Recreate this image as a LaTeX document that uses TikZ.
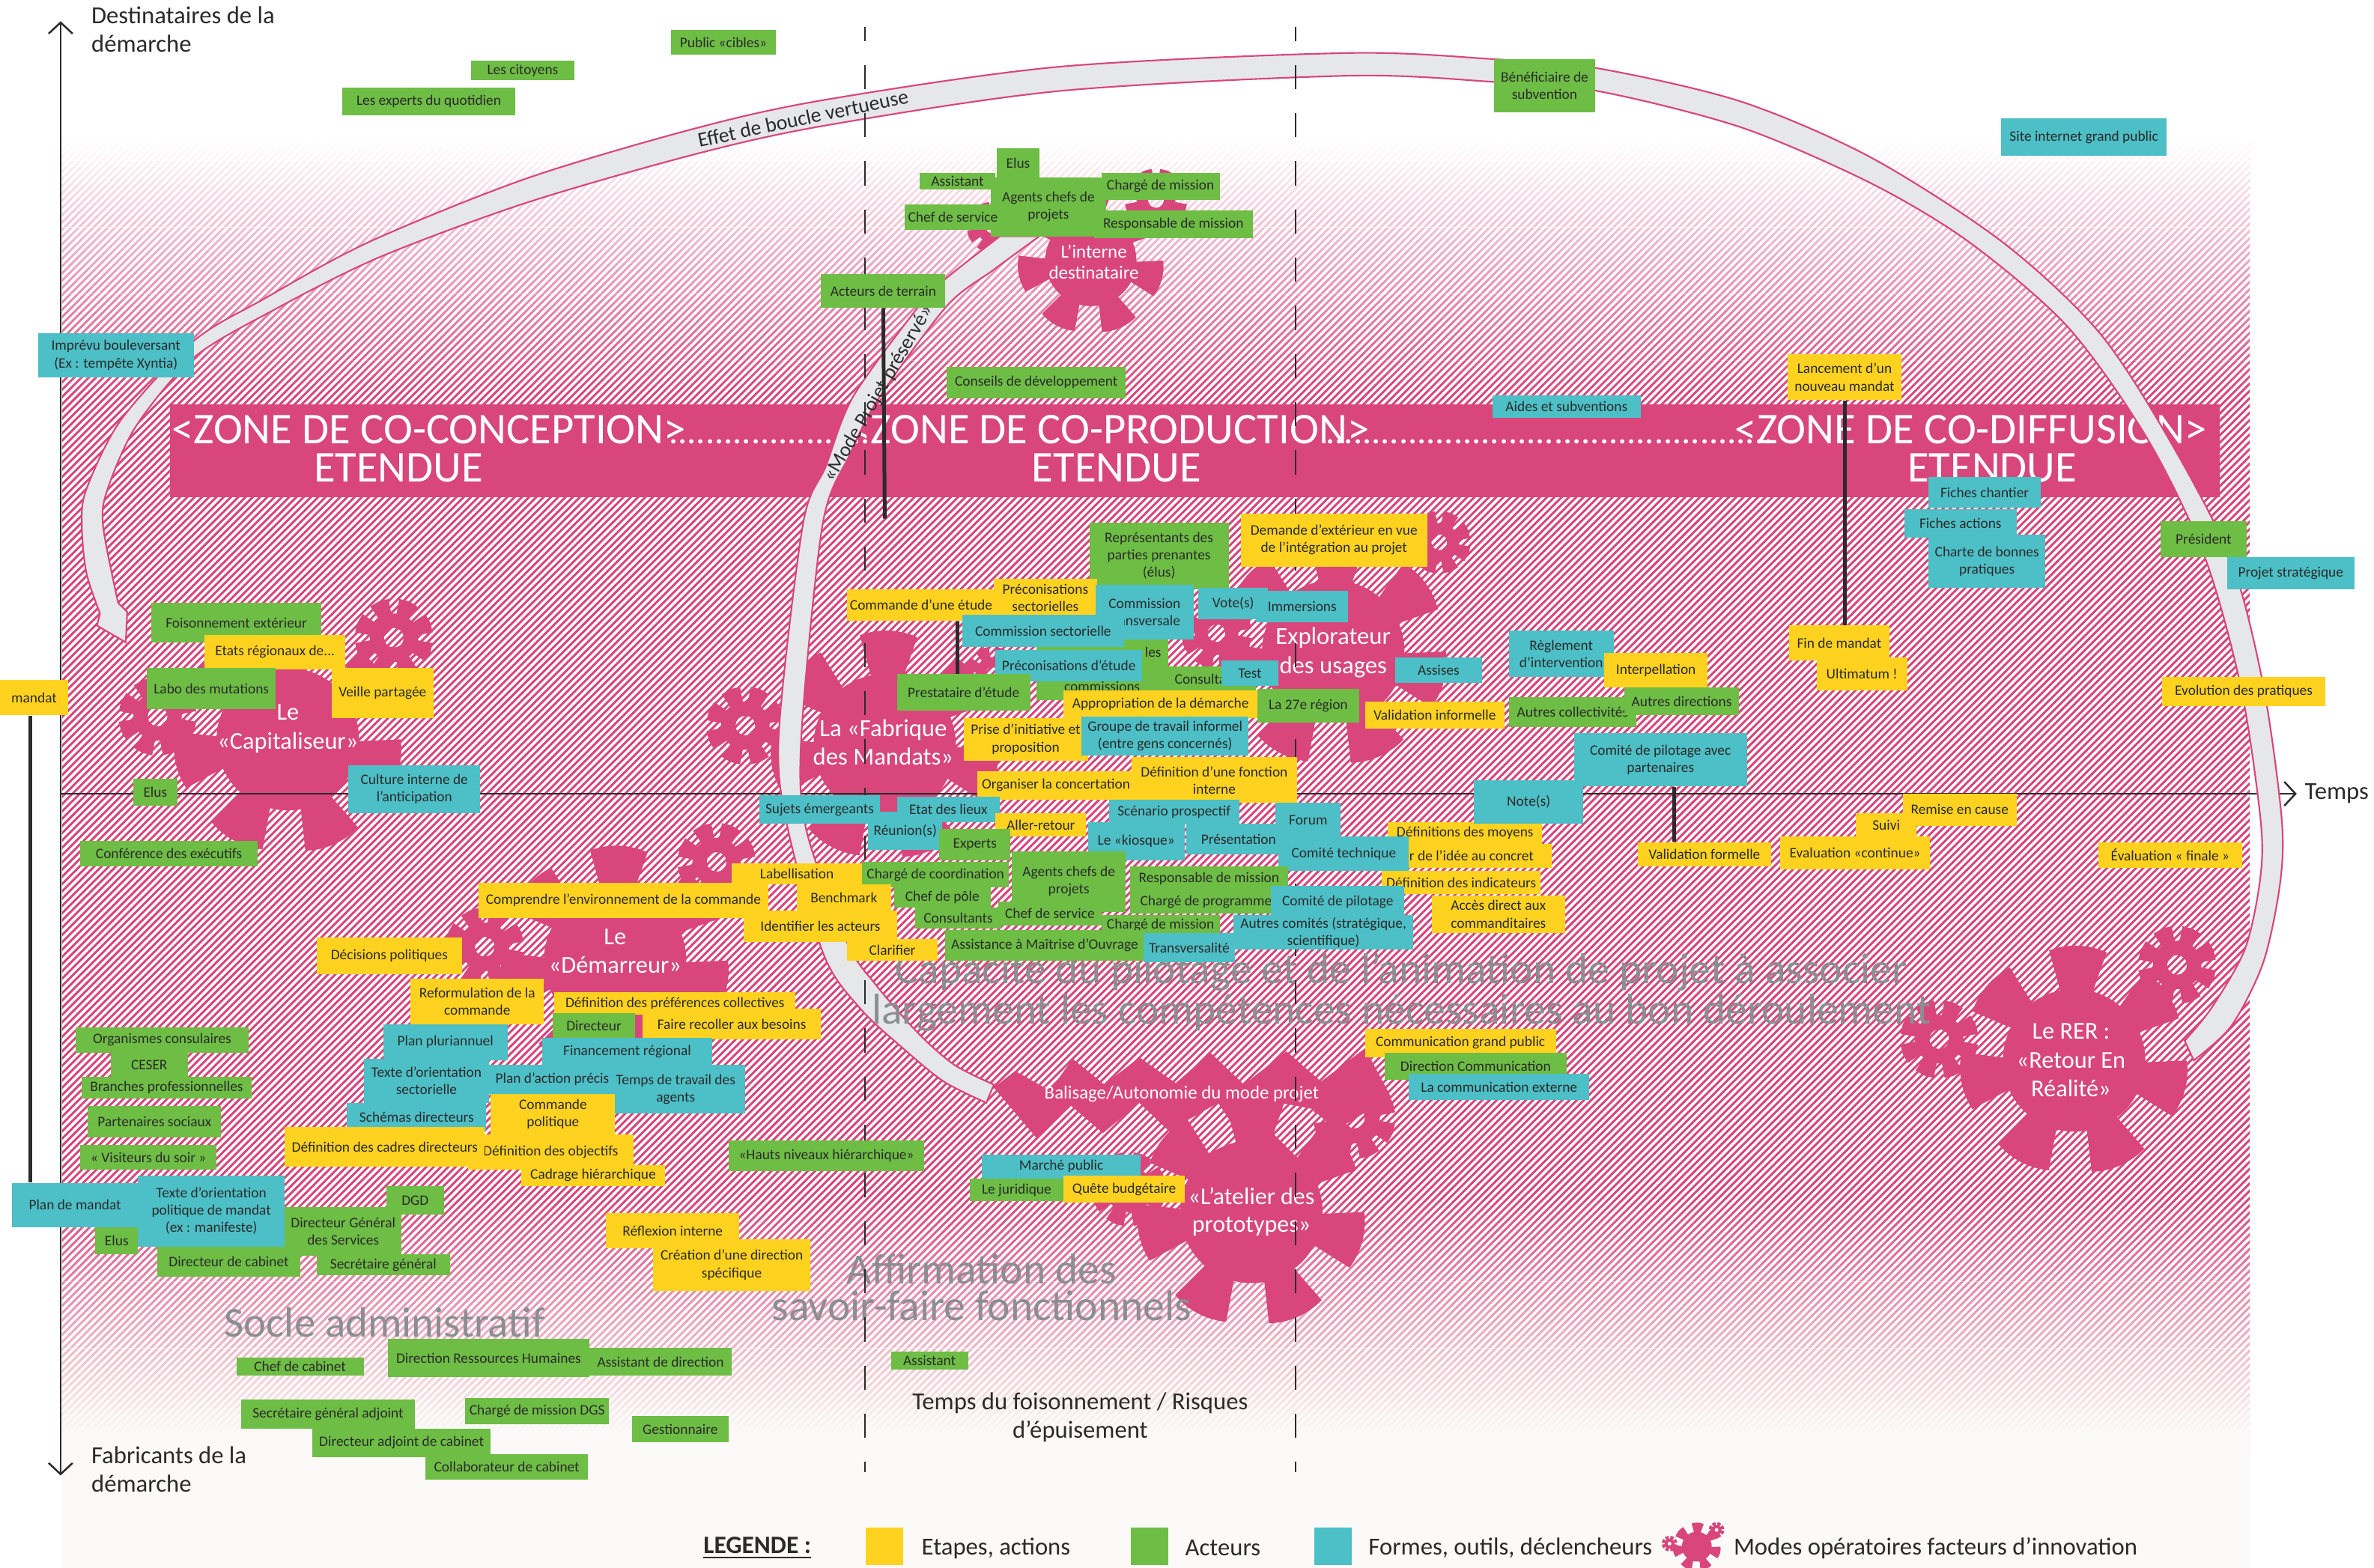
\documentclass[tikz,border=0pt]{standalone}
\usepackage{fontspec}
\setmainfont{Carlito}
\usetikzlibrary{arrows.meta,calc}
\definecolor{jaune}{HTML}{FFD21F}
\definecolor{vert}{HTML}{6EBD45}
\definecolor{bleu}{HTML}{4DBFC6}
\definecolor{rose}{HTML}{D8467C}
\definecolor{encre}{HTML}{2B2B2B}
\definecolor{ombre}{HTML}{8C8E90}
\definecolor{perle}{HTML}{E6E7E8}
\definecolor{creme}{HTML}{FBFAF8}
\tikzset{
    etiquette/.style={rectangle, inner sep=0pt, align=center, text=encre, font=\fontsize{5.45}{6.5}\selectfont},
    etape/.style={etiquette, fill=jaune},
    acteur/.style={etiquette, fill=vert},
    outil/.style={etiquette, fill=bleu},
    rayure/.style={rose, line width=0.85pt},
    boucle/.style={fill=perle, draw=rose, line width=0.6pt},
    lien/.style={encre, line width=1.4pt},
    axe/.style={encre, line width=0.7pt},
    pointille/.style={encre, line width=0.6pt, dash pattern=on 9.1pt off 9pt, dash phase=4pt},
    blanc/.style={white, align=center, inner sep=0pt},
    bandeau/.style={white, inner sep=0pt, anchor=base, font=\fontsize{16.5}{16.5}\selectfont},
    socle/.style={ombre, align=center, inner sep=0pt, font=\fontsize{16.2}{13.7}\selectfont},
    titre/.style={encre, inner sep=0pt, font=\fontsize{9.2}{10.8}\selectfont}
}
\begin{document}
\begin{tikzpicture}[x=0.02cm, y=-0.02cm, >={Straight Barb[length=4.2pt,width=9pt]}]
    \def\pas{4.8}
    \useasboundingbox (0,0) rectangle (1567,1035.1);
    % fond hachure
    \begin{scope}
        \clip (41,94) rectangle (1485,960);
        \foreach \k in {0,...,481}
            \draw [rayure] (-825+\pas*\k,960) -- ++(866,-866);
    \end{scope}
    \foreach \k in {0,...,41}
        \fill [white, opacity={1-(\k+0.5)/42}] (41,94+4*\k) rectangle ++(1444,4.05);
    \foreach \k in {0,...,38}
        \fill [creme, opacity={(\k+0.5)/39}] (41,790+4*\k) rectangle ++(1444,4.05);
    \fill [creme] (41,945) rectangle (1485,1035.1);
    % grandes roues
    \foreach \x/\y/\s in {190/488/1, 584/492/1, 406/634/1, 880/430/1, 720/172/0.64, 826/800/1, 1369/700/1, 1120/1021/0.21}{
        \begin{scope}[shift={(\x,\y)}, scale=\s]
            \fill [rose] (0,0) circle [radius=47];
            \foreach [evaluate={\t=88+51.43*\a}] \a in {0,...,6}
                \fill [rose, rotate=\t] (40,-9) -- (72,-19) .. controls (77,-7) and (77,7) .. (72,19) -- (40,9) -- cycle;
        \end{scope}
    }
    % petites roues
    \foreach \x/\y/\s in {260/421/1, 104/473/1, 492/479/1, 655/445/0.7, 950/358/0.8, 803/418/0.9, 320/625/1, 473/569/1, 763/132/0.8, 655/150/0.65, 894/738/1.05, 745/785/0.95, 1280/686/1, 1437/637/1, 1102/1019/0.2, 1133/1010/0.2}{
        \begin{scope}[shift={(\x,\y)}, scale=\s]
            \fill [rose, even odd rule] (0,0) circle [radius=16] (0,0) circle [radius=6.5];
            \foreach [evaluate={\t=22.5+45*\a}] \a in {0,...,7}
                \fill [rose, rotate=\t] (13,-4) -- (25,-6.5) -- (26,0) -- (25,6.5) -- (13,4) -- cycle;
        \end{scope}
    }
    % balisage
    \fill [rose] (656,718) -- (670,707) -- (693,720) -- (708,699) -- (729,716) -- (752,698) -- (776,715) -- (799,695) -- (821,716) -- (849,694) -- (872,714) -- (901,692) -- (918,724) -- (882,746) -- (866,732) -- (845,728) -- (840,748) -- (858,766) -- (826,790) -- (816,755) -- (812,740) -- (804,728) -- (783,740) -- (799,763) -- (773,748) -- (752,728) -- (728,748) -- (707,730) -- (684,751) -- cycle;
    % bandeau
    \fill [rose] (112,267) rectangle (1465,328);
    \node [bandeau] (zonea) at (283,293) {<ZONE DE CO-CONCEPTION>};
    \node [bandeau] (zoneb) at (732,293) {<ZONE DE CO-PRODUCTION>};
    \node [bandeau] (zonec) at (1301,293) {<ZONE DE CO-DIFFUSION>};
    \node [bandeau, font=\fontsize{13.6}{13.6}\selectfont] (pointsa) at (511,293) {.......................};
    \node [bandeau, font=\fontsize{13.6}{13.6}\selectfont] (pointsb) at (1023,293) {.................................................};
    \node [bandeau] (etenduea) at (263,318) {ETENDUE};
    \node [bandeau] (etendueb) at (737,318) {ETENDUE};
    \node [bandeau] (etenduec) at (1315,318) {ETENDUE};
    % axes
    \coordinate (haut) at (40,14);
    \coordinate (bas) at (40,974);
    \coordinate (origine) at (40,524);
    \coordinate (fin) at (1516,524);
    \draw [axe, <->] (haut) -- (bas);
    \draw [axe, ->] (origine) -- (fin);
    % boucles
    \filldraw [boucle] plot [smooth] coordinates {(1448,700) (1473,677) (1494,635) (1505,583) (1506,540) (1494,453) (1473,371) (1434,294) (1386,220) (1322,160) (1235,104) (1149,67) (1054,45) (985,39) (890,35) (700,44) (544,66) (458,85) (347,118) (243,160) (173,198) (128,225) (80,277) (57,323) (54,347) (57,378) (66,405)} -- (64,413) -- (83,424) -- (84,404) -- plot [smooth] coordinates {(78,398) (68,347) (71,323) (90,281) (128,236) (180,205) (250,170) (347,134) (458,102) (544,83) (700,60) (890,50) (985,54) (1054,60) (1149,84) (1235,121) (1300,160) (1365,216) (1417,289) (1455,367) (1479,453) (1492,540) (1492,579) (1482,626) (1460,665) (1442,687)} -- cycle;
    \filldraw [boucle] plot [smooth] coordinates {(686,156) (656,178) (625,202) (580,263) (561,300) (543,346) (529,485) (532,547) (559,622) (578,650) (606,682) (630,703) (656,716)} -- plot [smooth] coordinates {(651,728) (623,714) (596,692) (568,666) (544,631) (520,547) (514,485) (530,346) (545,308) (563,262) (605,204) (623,185) (660,156)} -- cycle;
    \node [rotate=12, encre, inner sep=0pt, font=\fontsize{7.8}{7.8}\selectfont] (effet) at (530,78) {Effet de boucle vertueuse};
    \node [rotate=60, encre, inner sep=0pt, font=\fontsize{7.6}{7.6}\selectfont] (preserve) at (580,260) {«Mode Projet préservé»};
    % textes des roues
    \node [blanc, font=\fontsize{9.1}{10.8}\selectfont] (capitaliseur) at (190,481) {Le\\«Capitaliseur»};
    \node [blanc, font=\fontsize{9.2}{10.8}\selectfont] (fabrique) at (583,490) {La «Fabrique\\des Mandats»};
    \node [blanc, font=\fontsize{9.1}{10.8}\selectfont] (demarreur) at (406,628) {Le\\«Démarreur»};
    \node [blanc, font=\fontsize{9.2}{11}\selectfont] (explorateur) at (880,431) {Explorateur\\des usages};
    \node [blanc, font=\fontsize{7}{8}\selectfont] (interne) at (722,173) {L’interne\\destinataire};
    \node [blanc, font=\fontsize{9}{10.2}\selectfont] (atelier) at (826,800) {«L’atelier des\\prototypes»};
    \node [blanc, font=\fontsize{9.1}{10.8}\selectfont] (rer) at (1367,700) {Le RER :\\«Retour En\\Réalité»};
    \node [blanc, font=\fontsize{7}{8}\selectfont] (balisage) at (780,722) {Balisage/Autonomie du mode projet};
    % textes d'ombre
    \node [socle] (capacite) at (925,655) {Capacité du pilotage et de l’animation de projet à associer\\largement les compétences nécessaires au bon déroulement};
    \node [socle] (affirmation) at (648,850) {Affirmation des\\savoir-faire fonctionnels};
    \node [socle, font=\fontsize{16}{16}\selectfont] (administratif) at (254,873) {Socle administratif};
    % separations
    \coordinate (tempsa) at (571,18);
    \coordinate (tempsb) at (855,18);
    \draw [pointille] (tempsa) -- ++(0,954);
    \draw [pointille] (tempsb) -- ++(0,954);
    % etiquettes
    \foreach \nm/\st/\xa/\ya/\xb/\yb/\tx in {
        public/acteur/443/20/512/36/Public «cibles»,
        citoyens/acteur/311/40/379/53/Les citoyens,
        experts/acteur/226/58/340/76/Les experts du quotidien,
        beneficiaire/acteur/986/39/1053/74/Bénéficiaire de\\subvention,
        site/outil/1321/78/1430/103/Site internet grand public,
        imprevu/outil/25/220/128/249/Imprévu bouleversant\\(Ex : tempête Xyntia),
        assistanta/acteur/607/114/657/125/Assistant,
        elusa/acteur/658/98/686/117/Elus,
        agentsa/acteur/654/117/730/156/Agents chefs de\\projets,
        chefa/acteur/597/135/661/152/Chef de service,
        chargea/acteur/727/114/805/132/Chargé de mission,
        responsablea/acteur/722/139/827/157/Responsable de mission,
        terrain/acteur/542/181/624/203/Acteurs de terrain,
        conseils/acteur/625/242/743/263/Conseils de développement,
        aides/outil/985/261/1083/276/Aides et subventions,
        lancement/etape/1180/234/1255/264/Lancement d’un\\nouveau mandat,
        chantier/outil/1273/315/1347/335/Fiches chantier,
        actions/outil/1257/336/1331/355/Fiches actions,
        charte/outil/1273/353/1350/388/Charte de bonnes\\pratiques,
        president/acteur/1426/344/1483/368/Président,
        strategique/outil/1470/368/1554/389/Projet stratégique,
        foisonnement/acteur/100/398/212/424/Foisonnement extérieur,
        etats/etape/135/419/228/442/Etats régionaux de.{}.{}.,
        labo/acteur/97/441/182/468/Labo des mutations,
        veille/etape/219/441/286/474/Veille partagée,
        mandat/etape/0/449/45/472/mandat,
        elusb/acteur/88/514/117/532/Elus,
        culture/outil/230/505/317/537/Culture interne de\\l’anticipation,
        executifs/acteur/53/555/170/572/Conférence des exécutifs,
        commande/etape/559/389/657/410/Commande d’une étude,
        representants/acteur/719/345/811/389/Représentants des\\parties prenantes\\(élus),
        demande/etape/819/339/942/374/Demande d’extérieur en vue\\de l’intégration au projet,
        precosect/etape/656/382/724/407/Préconisations\\sectorielles,
        transversale/outil/723/386/788/422/Commission\\transversale,
        vote/outil/791/388/837/409/Vote(s),
        immersions/outil/829/390/890/411/Immersions,
        commissions/acteur/684/422/771/462/\phantom{Vice-présidents d}les\\ \\commissions,
        sectorielle/outil/635/406/742/427/Commission sectorielle,
        consultation/acteur/771/440/829/457/Consultation,
        test/outil/806/436/844/453/Test,
        precoetude/outil/657/429/754/450/Préconisations d’étude,
        prestataire/acteur/592/445/680/469/Prestataire d’étude,
        appropriation/etape/702/456/830/474/Appropriation de la démarche,
        region/acteur/830/455/897/477/La 27e région,
        informelle/etape/901/463/993/481/Validation informelle,
        assises/outil/921/434/978/451/Assises,
        prise/etape/636/474/718/502/Prise d’initiative et\\proposition,
        groupe/outil/714/473/824/499/Groupe de travail informel\\(entre gens concernés),
        concertation/etape/645/509/749/528/Organiser la concertation,
        fonction/etape/747/500/856/530/Définition d’une fonction\\interne,
        reglement/outil/996/416/1065/447/Règlement\\d’intervention,
        interpellation/etape/1059/431/1127/454/Interpellation,
        collectivites/acteur/996/460/1080/480/Autres collectivités,
        directions/acteur/1072/454/1148/472/Autres directions,
        finmandat/etape/1181/413/1247/436/Fin de mandat,
        ultimatum/etape/1199/434/1259/456/Ultimatum !,
        pratiques/etape/1427/447/1535/466/Evolution des pratiques,
        partenaires/outil/1039/484/1153/519/Comité de pilotage avec\\partenaires,
        moyens/etape/916/543/1018/557/Définitions des moyens,
        notes/outil/973/515/1045/544/Note(s),
        remise/etape/1256/524/1331/545/Remise en cause,
        suivi/etape/1225/537/1265/552/Suivi,
        continue/etape/1175/552/1274/574/Evaluation «continue»,
        formelle/etape/1081/556/1169/572/Validation formelle,
        finale/etape/1385/556/1480/573/Évaluation « finale »,
        reunion/outil/573/536/622/561/Réunion(s),
        sujets/outil/501/525/581/544/Sujets émergeants,
        lieux/outil/592/526/660/543/Etat des lieux,
        aller/etape/657/537/717/552/Aller-retour,
        expertsb/acteur/620/547/667/568/Experts,
        scenario/outil/732/528/818/544/Scénario prospectif,
        kiosque/outil/718/543/782/568/Le «kiosque»,
        presentation/outil/783/544/852/564/Présentation,
        forum/outil/842/530/885/553/Forum,
        concret/etape/897/557/1024/573/Passer de l’idée au concret,
        technique/outil/844/552/930/575/Comité technique,
        indicateurs/etape/912/575/1017/590/Définition des indicateurs,
        labellisation/etape/483/570/569/584/Labellisation,
        coordination/acteur/569/569/666/586/Chargé de coordination,
        agentsb/acteur/668/562/743/602/Agents chefs de\\projets,
        pole/acteur/590/586/654/599/Chef de pôle,
        comprendre/etape/316/583/507/606/Comprendre l’environnement de la commande,
        benchmark/etape/526/584/588/601/Benchmark,
        identifier/etape/491/601/592/622/Identifier les acteurs,
        consultants/acteur/604/599/661/613/Consultants,
        chefb/acteur/659/595/727/611/Chef de service,
        responsableb/acteur/746/572/850/588/Responsable de mission,
        programme/acteur/746/588/846/603/Chargé de programme,
        chargeb/acteur/727/604/805/617/Chargé de mission,
        pilotage/outil/839/585/927/606/Comité de pilotage,
        acces/etape/945/591/1033/616/Accès direct aux\\commanditaires,
        comites/outil/814/604/933/627/{Autres comités (stratégique,\\scientifique)},
        amo/acteur/624/614/755/634/Assistance à Maîtrise d’Ouvrage,
        transversalite/outil/755/616/815/635/Transversalité,
        clarifier/etape/559/620/619/634/Clarifier,
        decisions/etape/209/619/305/643/Décisions politiques,
        reformulation/etape/271/646/359/676/Reformulation de la\\commande,
        preferences/etape/366/655/525/670/Définition des préférences collectives,
        directeur/acteur/365/669/419/685/Directeur,
        recoller/etape/424/666/542/686/Faire recoller aux besoins,
        pluriannuel/outil/253/676/335/700/Plan pluriannuel,
        financement/outil/358/685/470/703/Financement régional,
        ceser/acteur/73/695/124/711/CESER,
        organismes/acteur/50/678/164/695/Organismes consulaires,
        branches/acteur/54/711/166/725/Branches professionnelles,
        sociaux/acteur/58/730/146/751/Partenaires sociaux,
        visiteurs/acteur/53/756/143/772/« Visiteurs du soir »,
        orientation/outil/240/699/323/728/Texte d’orientation\\sectorielle,
        travail/outil/400/703/492/735/Temps de travail des\\agents,
        action/outil/323/703/406/722/Plan d’action précis,
        schemas/outil/229/728/321/747/Schémas directeurs,
        politique/etape/324/722/406/749/Commande\\politique,
        objectifs/etape/309/749/418/772/Définition des objectifs,
        cadres/etape/188/744/320/770/Définition des cadres directeurs,
        cadrage/etape/344/769/439/783/Cadrage hiérarchique,
        hauts/acteur/481/753/610/773/«Hauts niveaux hiérarchique»,
        planmandat/outil/8/781/91/810/Plan de mandat,
        elusc/acteur/63/810/91/828/Elus,
        manifeste/outil/91/776/188/823/Texte d’orientation\\politique de mandat\\(ex : manifeste),
        dgs/acteur/188/797/265/829/Directeur Général\\des Services,
        dgd/acteur/255/783/293/802/DGD,
        cabinet/acteur/104/823/198/843/Directeur de cabinet,
        secretaire/acteur/209/828/297/842/Secrétaire général,
        reflexion/etape/400/801/488/824/Réflexion interne,
        creation/etape/431/818/535/852/Création d’une direction\\spécifique,
        marche/outil/648/762/753/778/Marché public,
        juridique/acteur/640/778/702/793/Le juridique,
        budget/etape/702/776/782/794/Quête budgétaire,
        grandpublic/etape/901/679/1027/698/Communication grand public,
        dircom/acteur/914/695/1034/713/Direction Communication,
        externe/outil/930/709/1049/726/La communication externe,
        assistantb/acteur/588/892/639/904/Assistant,
        chefcab/acteur/156/896/240/908/Chef de cabinet,
        drh/acteur/256/884/389/909/Direction Ressources Humaines,
        assistantc/acteur/389/890/483/908/Assistant de direction,
        adjoint/acteur/159/924/274/943/Secrétaire général adjoint,
        missiondgs/acteur/307/923/402/940/Chargé de mission DGS,
        gestionnaire/acteur/417/935/481/952/Gestionnaire,
        adjointcab/acteur/206/943/324/962/Directeur adjoint de cabinet,
        collaborateur/acteur/281/960/388/977/Collaborateur de cabinet}{
        \node [\st, minimum width={(\xb-\xa)*0.02cm}, minimum height={(\yb-\ya)*0.02cm}] (\nm) at ({(\xa+\xb)/2},{(\ya+\yb)/2}) {\tx};
    }
    % liens
    \coordinate (reperecommande) at (632,420);
    \draw [lien] (terrain.south) -- ++(1,139);
    \draw [lien] (reperecommande |- commande.south) -- (reperecommande |- prestataire.north);
    \draw [lien] (lancement.south) -- (lancement.south |- finmandat.north);
    \draw [lien] ($(partenaires.south)+(9,0)$) -- ($(formelle.north)+(-20,0)$);
    \draw [lien] ($(mandat.south)+(-2.5,0)$) -- ($(planmandat.north -| mandat.south)+(-2.5,0)$);
    % textes libres
    \node [titre, anchor=west, align=left] (destinataires) at (60,19.5) {Destinataires de la\\démarche};
    \node [titre, anchor=west, align=left] (fabricants) at (60,970) {Fabricants de la\\démarche};
    \node [titre, anchor=west] (temps) at (1521,524) {Temps};
    \node [titre, align=center] (risques) at (713,935.5) {Temps du foisonnement / Risques\\d’épuisement};
    % legende
    \node [titre, anchor=west, font=\bfseries\fontsize{9.4}{10}\selectfont] (legende) at (464,1022) {\underline{LEGENDE :}};
    \foreach \nm/\st/\x/\lg/\tx in {lega/etape/571/608/{Etapes, actions}, legb/acteur/746/782/Acteurs, legc/outil/867/903/{Formes, outils, déclencheurs}}{
        \node [\st, minimum width=0.5cm, minimum height=0.5cm, anchor=north west] (\nm) at (\x,1008) {};
        \node [titre, anchor=west] (\nm t) at (\lg,1022) {\tx};
    }
    \node [titre, anchor=west] (legd) at (1144,1022) {Modes opératoires facteurs d’innovation};
\end{tikzpicture}
\end{document}
